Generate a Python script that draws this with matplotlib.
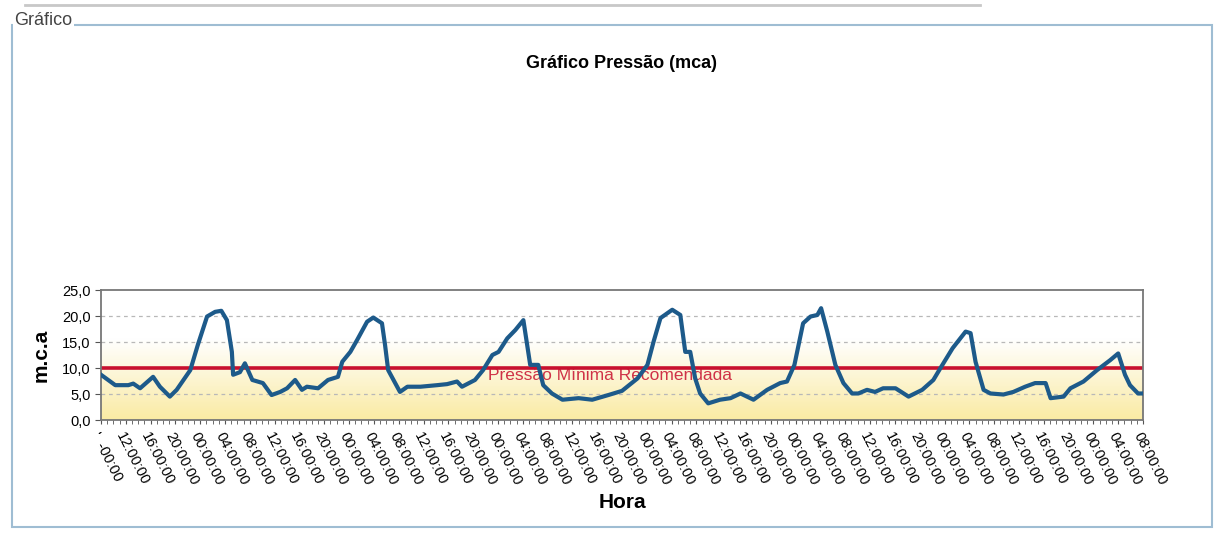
import numpy as np
import matplotlib
matplotlib.use("Agg")
import matplotlib.pyplot as plt
from matplotlib.patches import Rectangle
from matplotlib.lines import Line2D
from matplotlib.ticker import FixedLocator, MultipleLocator

plt.rcParams['font.family'] = ['Liberation Sans', 'DejaVu Sans']

# horas desde o inicio da medicao (leitura do grafico)
horas = [0, 2.3, 4.4, 5.2, 6.3, 8.4, 9.5, 11.1, 12.2, 14.4, 15.6, 17.1, 18.4, 19.4,
         20.3, 21.1, 21.3, 22.4, 23.2, 24.4, 26.1, 27.5, 28.9, 30, 31.3, 32.4, 33.2,
         35, 36.6, 38.2, 38.9, 40.2, 41.3, 42.9, 43.9, 45.3, 45.8, 46.3, 48.2, 49.4,
         51.5, 54.2, 55.8, 57.4, 58.2, 60.3, 61.6, 63.1, 64.1, 65.5, 66.8, 68.1,
         69.2, 70.5, 71.3, 72.7, 74.4, 77, 79.2, 81.8, 84, 86.5, 88.1, 89.1, 90.2,
         92.1, 93.4, 94.2, 95, 95.8, 96.6, 97.9, 99.8, 101.5, 103.1, 105.2, 107.4,
         109.5, 110.6, 111.8, 113.2, 114.4, 115.5, 116.1, 117.1, 118.4, 119.7,
         121.1, 122.1, 123.5, 124.8, 126.1, 128.1, 130.2, 132.4, 134.2, 135.3,
         137.3, 139.4, 140.2, 141, 142.3, 143.4, 145.5, 147.1, 149, 150.6, 152.3,
         153.1, 155.2, 156.3, 158.4, 160.6, 162.7, 164, 165.1, 165.9, 167.2, 168]
pressao = [8.7, 6.7, 6.7, 7.0, 6.1, 8.3, 6.4, 4.5, 5.8, 9.6, 14.4, 19.9, 20.8, 21.0,
           19.2, 13.1, 8.7, 9.2, 10.9, 7.7, 7.1, 4.8, 5.4, 6.1, 7.7, 5.8, 6.4,
           6.1, 7.7, 8.3, 11.2, 13.1, 15.4, 18.9, 19.7, 18.6, 14.4, 9.6, 5.4, 6.4,
           6.4, 6.7, 6.9, 7.4, 6.4, 7.7, 9.6, 12.5, 13.1, 15.7, 17.3, 19.2,
           10.6, 10.6, 6.7, 5.1, 3.9, 4.2, 3.9, 4.8, 5.6, 8.0, 10.6, 15.1, 19.6,
           21.2, 20.2, 13.1, 13.1, 8.0, 5.1, 3.2, 3.9, 4.2, 5.1, 3.9, 5.8,
           7.1, 7.4, 10.6, 18.6, 19.9, 20.2, 21.5, 17.0, 10.6, 7.1,
           5.1, 5.1, 5.8, 5.4, 6.1, 6.1, 4.5, 5.8, 7.7, 9.9,
           13.8, 17.0, 16.7, 11.2, 5.8, 5.1, 4.9, 5.4, 6.4, 7.1, 7.1,
           4.2, 4.5, 6.1, 7.4, 9.6, 11.5, 12.8, 8.7, 6.7, 5.1, 5.1]

pressao_minima = 10.0
rotulos_x = ["'  -00:00"] + ["12:00:00", "16:00:00", "20:00:00"] + \
    ["00:00:00", "04:00:00", "08:00:00", "12:00:00", "16:00:00", "20:00:00"] * 6 + \
    ["00:00:00", "04:00:00", "08:00:00"]
y_ticks = [0, 5, 10, 15, 20, 25]

fig = plt.figure(figsize=(12.25, 5.4), dpi=100)

# moldura externa
fig.add_artist(Rectangle((12 / 1225, 1 - 527 / 540), 1200 / 1225, 502 / 540,
                         transform=fig.transFigure, fill=False,
                         edgecolor='#9fbdd3', linewidth=1.5))
fig.add_artist(Line2D([25 / 1225, 980 / 1225], [1 - 5 / 540, 1 - 5 / 540],
                      transform=fig.transFigure, color='#c8c8c8', linewidth=2))
fig.text(14 / 1225, 1 - 29 / 540, 'Gráfico', fontsize=13, color='#444444',
         ha='left', va='bottom',
         bbox=dict(facecolor='white', edgecolor='none', pad=1))

fig.text(622 / 1225, 1 - 63 / 540, 'Gráfico Pressão (mca)', fontsize=13,
         fontweight='bold', ha='center', va='center')

ax = fig.add_axes([101 / 1225, 120 / 540, 1042 / 1225, 130 / 540])

# fundo em degrade amarelo -> branco
grad = np.linspace(0, 1, 256).reshape(-1, 1)
cores = np.zeros((256, 1, 3))
base = np.array([0.98, 0.92, 0.64])
for i in range(256):
    f = min(1.0, grad[i, 0] * 1.6)
    cores[i, 0] = base * (1 - f) + np.array([1, 1, 1]) * f
ax.imshow(cores, extent=[0, 168, 0, 25], origin='lower', aspect='auto', zorder=0)

for v in y_ticks[1:-1]:
    ax.axhline(v, color='#b8b8b8', linestyle=(0, (3, 3)), linewidth=0.9, zorder=1)

ax.axhline(pressao_minima, color='#c8102e', linewidth=2.6, zorder=2)
ax.text(82, 8.6, 'Pressão Mínima Recomendada', color='#c8102e', fontsize=12.5,
        ha='center', va='center', zorder=2, alpha=0.85)

ax.plot(horas, pressao, color='#1d5a8a', linewidth=3.0, zorder=3,
        solid_joinstyle='round')

ax.set_xlim(0, 168)
ax.set_ylim(0, 25)
ax.xaxis.set_major_locator(FixedLocator(np.arange(0, 169, 4)))
ax.xaxis.set_minor_locator(MultipleLocator(1))
ax.set_xticklabels(rotulos_x, rotation=-63, ha='left', va='top',
                   rotation_mode='anchor', fontsize=10.5)
ax.set_yticks(y_ticks)
ax.set_yticklabels([f'{v:.1f}'.replace('.', ',') for v in y_ticks], fontsize=10.5)
ax.tick_params(axis='x', which='both', length=3, color='#555555', pad=4)
ax.tick_params(axis='y', length=4, color='#555555')
for s in ax.spines.values():
    s.set_color('#777777')
    s.set_linewidth(1.3)

ax.set_ylabel('m.c.a', fontsize=15, fontweight='bold', labelpad=8)
fig.text(622 / 1225, 1 - 502 / 540, 'Hora', fontsize=15, fontweight='bold',
         ha='center', va='center')

fig.savefig('out.png', dpi=100)
